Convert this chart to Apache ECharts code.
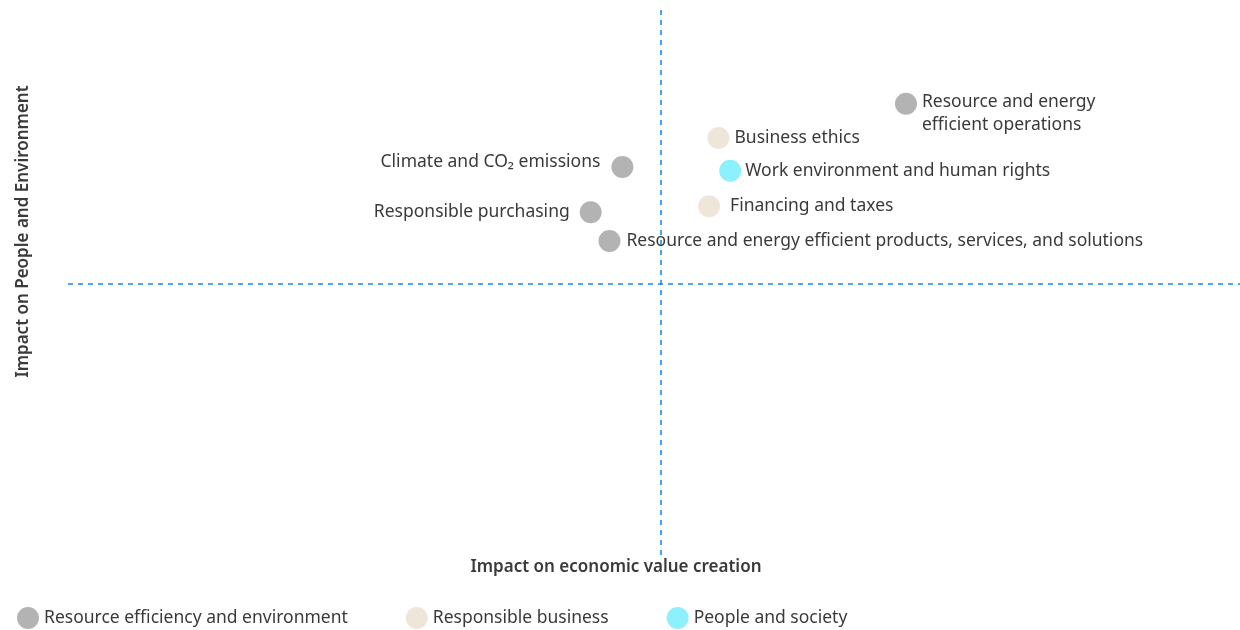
<!DOCTYPE html>
<html>
<head>
<meta charset="utf-8">
<script src="https://cdn.jsdelivr.net/npm/echarts@6/dist/echarts.min.js"></script>
<style>
  html, body { margin: 0; padding: 0; background: #fff; }
  #chart { width: 1240px; height: 630px; }
</style>
</head>
<body>
<div id="chart"></div>
<script>
// materiality matrix, values in % of each axis
const groups = ['Resource efficiency and environment', 'Responsible business', 'People and society'];
const groupColors = ['#b3b3b3', '#efe6da', '#8cf1fc'];

// [x, y, label]
const resourcePoints = [
  [71.5, 82.8, 'Resource and energy\nefficient operations'],
  [47.3, 71.2, 'Climate and CO₂ emissions'],
  [44.6, 62.9, 'Responsible purchasing'],
  [46.2, 57.6, 'Resource and energy efficient products, services, and solutions']
];
const businessPoints = [
  [55.5, 76.5, 'Business ethics'],
  [54.7, 64.0, 'Financing and taxes']
];
const peoplePoints = [
  [56.5, 70.5, 'Work environment and human rights']
];
const xDivider = 50.6;
const yDivider = 49.72;

// label placement per point (style only)
const labelLayout = {
  'Resource and energy\nefficient operations': { position: 'right', distance: 5, offset: [0, 10] },
  'Climate and CO₂ emissions': { position: 'left', distance: 11, offset: [0, -5] },
  'Responsible purchasing': { position: 'left', distance: 10 },
  'Resource and energy efficient products, services, and solutions': { position: 'right', distance: 6 },
  'Business ethics': { position: 'right', distance: 5 },
  'Financing and taxes': { position: 'right', distance: 10 },
  'Work environment and human rights': { position: 'right', distance: 4 }
};

const font = '"Noto Sans", sans-serif';
const textColor = '#3a3a3a';

function toData(points) {
  return points.map(p => ({
    value: [p[0], p[1]],
    name: p[2],
    label: labelLayout[p[2]]
  }));
}

const chart = echarts.init(document.getElementById('chart'));
const seriesData = [resourcePoints, businessPoints, peoplePoints];
const dividerStyle = { color: '#1a8be8', width: 1.6, type: [5, 5], opacity: 1 };

chart.setOption({
  animation: false,
  grid: { left: 68, right: 0, top: 10, bottom: 75 },
  xAxis: {
    type: 'value', min: 0, max: 100,
    axisLine: { show: false }, axisTick: { show: false },
    axisLabel: { show: false }, splitLine: { show: false },
    name: 'Impact on economic value creation',
    nameLocation: 'middle',
    nameGap: 4,
    nameTextStyle: {
      fontFamily: font, fontSize: 17, fontWeight: 600, color: textColor,
      padding: [0, 76, 0, 0]
    }
  },
  yAxis: {
    type: 'value', min: 0, max: 100,
    axisLine: { show: false }, axisTick: { show: false },
    axisLabel: { show: false }, splitLine: { show: false },
    name: 'Impact on People and Environment',
    nameLocation: 'middle',
    nameGap: 36,
    nameTextStyle: {
      fontFamily: font, fontSize: 17, fontWeight: 600, color: textColor,
      padding: [0, 0, 0, 102]
    }
  },
  legend: {
    left: 17, bottom: 1, padding: 0,
    icon: 'circle', itemWidth: 22, itemHeight: 22, itemGap: 58,
    textStyle: { fontFamily: font, fontSize: 17.5, color: textColor },
    data: groups
  },
  series: groups.map((g, i) => ({
    name: g,
    type: 'scatter',
    symbolSize: 22,
    itemStyle: { color: groupColors[i], opacity: 1 },
    label: {
      show: true,
      formatter: '{b}',
      fontFamily: font, fontSize: 17.5, color: textColor, lineHeight: 23
    },
    data: toData(seriesData[i]),
    markLine: i === 0 ? {
      silent: true,
      symbol: 'none',
      label: { show: false },
      lineStyle: dividerStyle,
      data: [{ xAxis: xDivider }, { yAxis: yDivider }]
    } : undefined
  }))
});
</script>
</body>
</html>
